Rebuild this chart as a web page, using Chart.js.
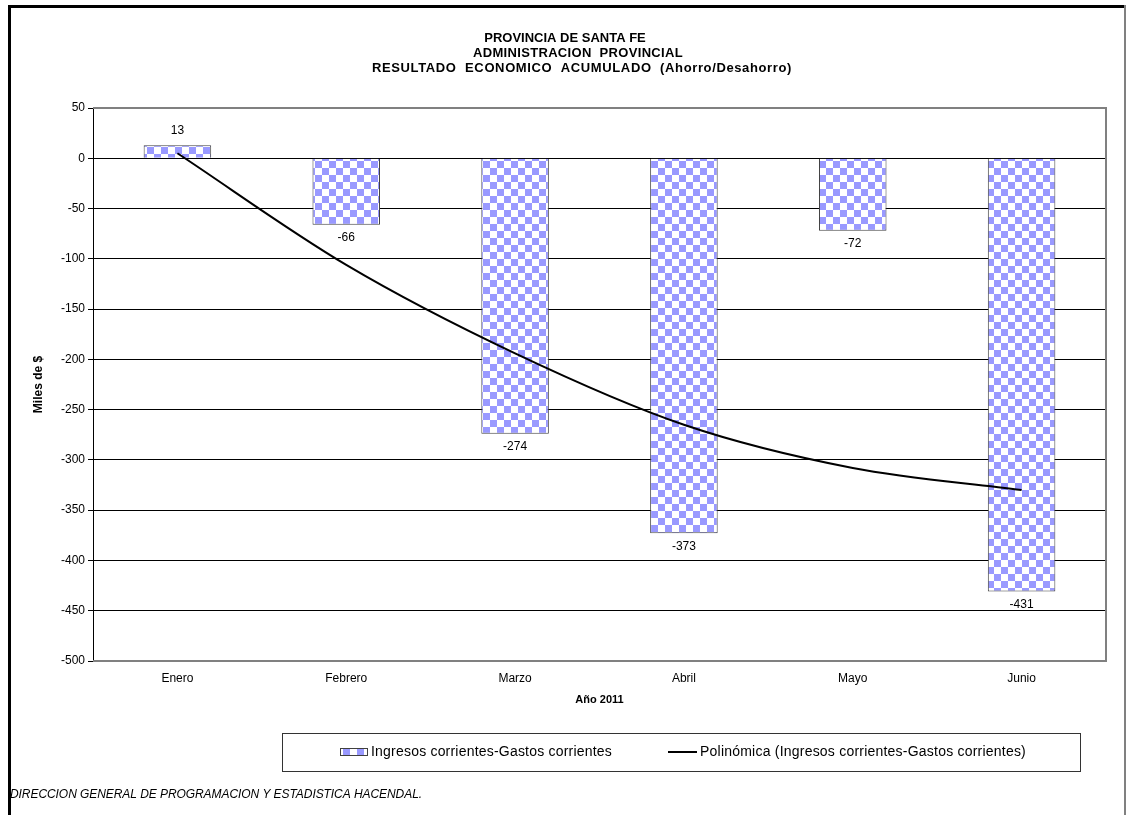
<!DOCTYPE html>
<html>
<head>
<meta charset="utf-8">
<script src="https://cdn.jsdelivr.net/npm/chart.js@4/dist/chart.umd.min.js"></script>
<style>
  html, body { margin: 0; padding: 0; background: #fff; }
  canvas { display: block; }
</style>
</head>
<body>
<canvas id="chart" width="1127" height="815"></canvas>
<script>
// --- data ---
const months = ['Enero', 'Febrero', 'Marzo', 'Abril', 'Mayo', 'Junio'];
const resultado = [13, -66, -274, -373, -72, -431];
// trend line (Polinómica)
const tendencia = [5, -106, -194, -265, -308, -330];
const titleLines = [
    'PROVINCIA DE SANTA FE',
    'ADMINISTRACION  PROVINCIAL',
    'RESULTADO  ECONOMICO  ACUMULADO  (Ahorro/Desahorro)'
];
const serieLabel = 'Ingresos corrientes-Gastos corrientes';
const trendLabel = 'Polinómica (Ingresos corrientes-Gastos corrientes)';
const footerText = 'DIRECCION GENERAL DE PROGRAMACION Y ESTADISTICA HACENDAL.';
const yMin = -500, yMax = 50, yStep = 50;

const FONT = '"Liberation Sans", Arial, sans-serif';
const ctx = document.getElementById('chart').getContext('2d');

// title line placement: [centre x, width] as seen in the reference (0 = natural width)
const titleBoxes = [[565, 0], [578, 210], [582, 420]];

function checker(size) {
    const c = document.createElement('canvas');
    c.width = c.height = size * 2;
    const g = c.getContext('2d');
    g.fillStyle = '#ffffff';
    g.fillRect(0, 0, size * 2, size * 2);
    g.fillStyle = '#9999ff';
    g.fillRect(0, 0, size, size);
    g.fillRect(size, size, size, size);
    return ctx.createPattern(c, 'repeat');
}
const barFill = checker(7);

// draws text left-aligned so it spans the given width
function fitText(c, text, x, y, width) {
    c.letterSpacing = '0px';
    const w = c.measureText(text).width;
    c.letterSpacing = ((width - w) / text.length) + 'px';
    c.fillText(text, x, y);
    c.letterSpacing = '0px';
}

const decorations = {
    id: 'decorations',
    beforeDraw(chart) {
        const c = chart.ctx;
        c.save();
        c.fillStyle = '#000';
        c.font = 'bold 13px ' + FONT;
        c.textBaseline = 'middle';
        titleLines.forEach((t, i) => {
            const [cx, w] = titleBoxes[i];
            const y = 38 + i * 15;
            if (w) {
                c.textAlign = 'left';
                fitText(c, t, cx - w / 2, y, w);
            } else {
                c.textAlign = 'center';
                c.fillText(t, cx, y);
            }
        });
        c.restore();
    },
    afterDatasetsDraw(chart) {
        const c = chart.ctx;
        const a = chart.chartArea;
        c.save();
        // plot border (top, right, bottom)
        c.strokeStyle = '#808080';
        c.lineWidth = 2;
        c.beginPath();
        c.moveTo(a.left, a.top);
        c.lineTo(a.right, a.top);
        c.lineTo(a.right, a.bottom);
        c.lineTo(a.left, a.bottom);
        c.stroke();

        // value labels
        const meta = chart.getDatasetMeta(0);
        c.fillStyle = '#000';
        c.font = '12px ' + FONT;
        c.textAlign = 'center';
        c.textBaseline = 'middle';
        meta.data.forEach((bar, i) => {
            const v = resultado[i];
            c.fillText(String(v), bar.x, v < 0 ? bar.y + 13 : bar.y - 15);
        });
        c.restore();
    },
    afterDraw(chart) {
        const c = chart.ctx;
        c.save();
        // outer frame
        c.fillStyle = '#000';
        c.fillRect(8, 5, 1118, 3);
        c.fillRect(8, 5, 3, 810);
        c.fillStyle = '#808080';
        c.fillRect(1124, 5, 2, 810);

        // legend box
        c.strokeStyle = '#333';
        c.lineWidth = 1;
        c.strokeRect(282.5, 733.5, 798, 38);
        c.font = '14px ' + FONT;
        c.textBaseline = 'middle';
        c.textAlign = 'left';
        c.fillStyle = barFill;
        c.fillRect(340, 748, 27, 8);
        c.strokeStyle = '#404040';
        c.strokeRect(340.5, 748.5, 27, 7);
        c.fillStyle = '#000';
        fitText(c, chart.data.datasets[0].label, 371, 752, 241);
        c.strokeStyle = '#000';
        c.lineWidth = 2;
        c.beginPath();
        c.moveTo(668, 752);
        c.lineTo(697, 752);
        c.stroke();
        fitText(c, chart.data.datasets[1].label, 700, 752, 326);

        // footer
        c.font = 'italic 12px ' + FONT;
        fitText(c, footerText, 10, 795, 412);
        c.restore();
    }
};

new Chart(ctx, {
    data: {
        labels: months,
        datasets: [
            {
                type: 'bar',
                label: serieLabel,
                data: resultado,
                backgroundColor: barFill,
                borderColor: '#404040',
                borderWidth: 1,
                barPercentage: 0.4,
                categoryPercentage: 1,
                order: 1
            },
            {
                type: 'line',
                label: trendLabel,
                data: tendencia,
                borderColor: '#000',
                borderWidth: 2,
                pointRadius: 0,
                cubicInterpolationMode: 'monotone',
                fill: false,
                order: 0
            }
        ]
    },
    options: {
        responsive: false,
        animation: false,
        layout: {
            padding: { top: 108, left: 0, right: 21, bottom: 94 }
        },
        plugins: {
            legend: { display: false },
            title: { display: false },
            tooltip: { enabled: false }
        },
        scales: {
            x: {
                offset: true,
                grid: { display: false, drawTicks: false },
                border: { display: false },
                ticks: {
                    color: '#000',
                    font: { family: FONT, size: 12 },
                    padding: 10
                },
                title: {
                    display: true,
                    text: 'Año 2011',
                    color: '#000',
                    font: { family: FONT, size: 11, weight: 'bold' },
                    padding: { top: 0, bottom: 14 }
                },
                afterFit(scale) { scale.height = 60; }
            },
            y: {
                min: yMin,
                max: yMax,
                ticks: {
                    stepSize: yStep,
                    color: '#000',
                    font: { family: FONT, size: 12 },
                    padding: 3
                },
                grid: {
                    color: '#000',
                    lineWidth: 1,
                    tickLength: 5
                },
                border: { display: true, color: '#000', width: 1 },
                title: {
                    display: true,
                    text: 'Miles de $',
                    color: '#000',
                    font: { family: FONT, size: 12, weight: 'bold' },
                    padding: { top: 31, bottom: 0 }
                },
                afterFit(scale) { scale.width = 93; }
            }
        }
    },
    plugins: [decorations]
});
</script>
</body>
</html>
